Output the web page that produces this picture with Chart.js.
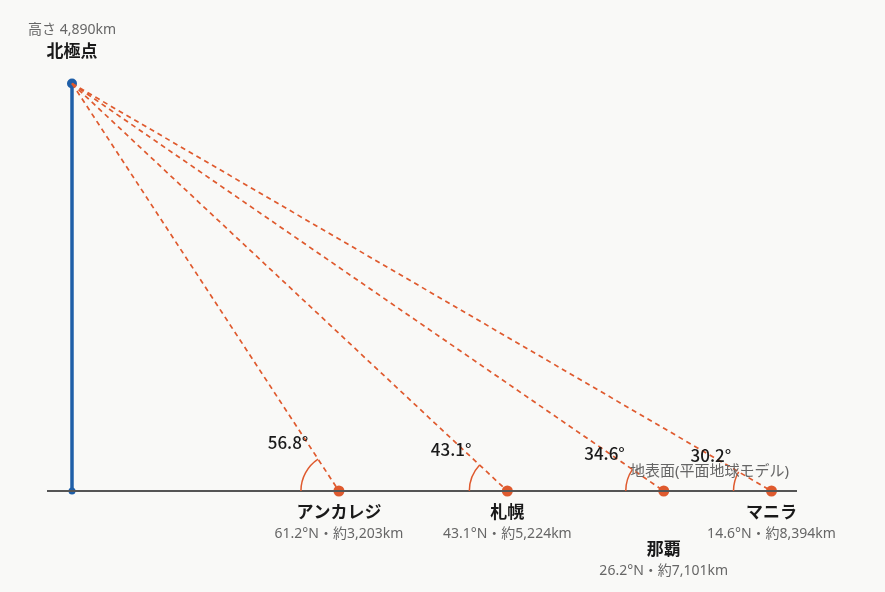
<!DOCTYPE html>
<html lang="ja">
<head>
<meta charset="utf-8">
<title>北極点から見た仰角</title>
<script src="https://cdn.jsdelivr.net/npm/chart.js@4"></script>
<style>
  html, body { margin: 0; padding: 0; background: #f9f9f7; }
  #wrap { width: 885px; height: 592px; position: relative; }
</style>
</head>
<body>
<div id="wrap"><canvas id="chart"></canvas></div>
<script>
// data
const cities = ["アンカレジ", "札幌", "那覇", "マニラ"];
const latitudes = [61.2, 43.1, 26.2, 14.6];
const distances = [3203, 5224, 7101, 8394];
const angles = [56.8, 43.1, 34.6, 30.2];
const poleHeight = 4890;
const groundRange = [-300, 8700];

const ORANGE = "#df5a2e";
const BLUE = "#1f5fa8";
const FONT = "'Noto Sans', 'Noto Sans CJK JP', sans-serif";

const fmt = n => n.toLocaleString("en-US");

const sightLines = distances.map((d, i) => ({
    label: cities[i] + "への視線",
    data: [{ x: 0, y: poleHeight }, { x: d, y: 0 }],
    showLine: true,
    borderColor: ORANGE,
    borderWidth: 1.7,
    borderDash: [5, 4],
    pointRadius: 0
}));

// arcs, angle values and all text labels
const labelPlugin = {
    id: "labels",
    afterDatasetsDraw(chart) {
        const { ctx, scales: { x, y } } = chart;
        const y0 = y.getPixelForValue(0);
        const px = distances.map(d => x.getPixelForValue(d));
        const poleX = x.getPixelForValue(0);
        const poleTop = y.getPixelForValue(poleHeight);
        ctx.save();
        ctx.textAlign = "center";
        ctx.textBaseline = "middle";

        distances.forEach((d, i) => {
            const cx = px[i];
            const th = Math.atan2(y0 - poleTop, cx - poleX);
            // angle arc
            ctx.beginPath();
            ctx.strokeStyle = ORANGE;
            ctx.lineWidth = 1.5;
            ctx.setLineDash([]);
            ctx.arc(cx, y0, 38, Math.PI, Math.PI + th);
            ctx.stroke();
            // angle value
            const a = th / 2 + Math.PI / 12;
            ctx.fillStyle = "#1a1a1a";
            ctx.font = "500 17px 'Noto Sans CJK JP', sans-serif";
            ctx.fillText(angles[i].toFixed(1) + "°", cx - 70 * Math.cos(a), y0 - 70 * Math.sin(a));
            // city labels, pushed down if the next city is too close
            const crowded = i < distances.length - 1 && px[i + 1] - cx < 140;
            const ly = y0 + 22 + (crowded ? 37 : 0);
            ctx.font = "bold 17px " + FONT;
            ctx.fillStyle = "#1a1a1a";
            ctx.fillText(cities[i], cx, ly);
            ctx.font = "14px " + FONT;
            ctx.fillStyle = "#666";
            ctx.fillText(latitudes[i].toFixed(1) + "°N・約" + fmt(d) + "km", cx, ly + 21);
        });

        // pole labels
        ctx.font = "bold 17px " + FONT;
        ctx.fillStyle = "#1a1a1a";
        ctx.fillText("北極点", poleX, poleTop - 31);
        ctx.font = "14px " + FONT;
        ctx.fillStyle = "#666";
        ctx.fillText("高さ " + fmt(poleHeight) + "km", poleX, poleTop - 53);

        // ground label
        ctx.textAlign = "right";
        ctx.font = "15px " + FONT;
        ctx.fillText("地表面(平面地球モデル)", x.getPixelForValue(groundRange[1]) - 8, y0 - 19);
        ctx.restore();
    }
};

new Chart(document.getElementById("chart"), {
    type: "scatter",
    data: {
        datasets: [
            {
                label: "地表面",
                data: groundRange.map(v => ({ x: v, y: 0 })),
                showLine: true,
                borderColor: "#555",
                borderWidth: 2,
                pointRadius: 0
            },
            ...sightLines,
            {
                label: "北極点",
                data: [{ x: 0, y: 0 }, { x: 0, y: poleHeight }],
                showLine: true,
                borderColor: BLUE,
                backgroundColor: BLUE,
                borderWidth: 3.5,
                pointRadius: [3.5, 5],
                pointBorderWidth: 0
            },
            {
                label: "都市",
                data: distances.map(d => ({ x: d, y: 0 })),
                backgroundColor: ORANGE,
                borderColor: ORANGE,
                pointRadius: 5.5,
                pointBorderWidth: 0
            }
        ]
    },
    options: {
        responsive: true,
        maintainAspectRatio: false,
        animation: false,
        layout: { padding: { left: 47, right: 88, top: 11, bottom: 11 } },
        scales: {
            x: { type: "linear", min: groundRange[0], max: groundRange[1], display: false },
            y: { type: "linear", min: -1080, max: 5760, display: false }
        },
        plugins: {
            legend: { display: false },
            tooltip: { enabled: false }
        }
    },
    plugins: [labelPlugin]
});
</script>
</body>
</html>
